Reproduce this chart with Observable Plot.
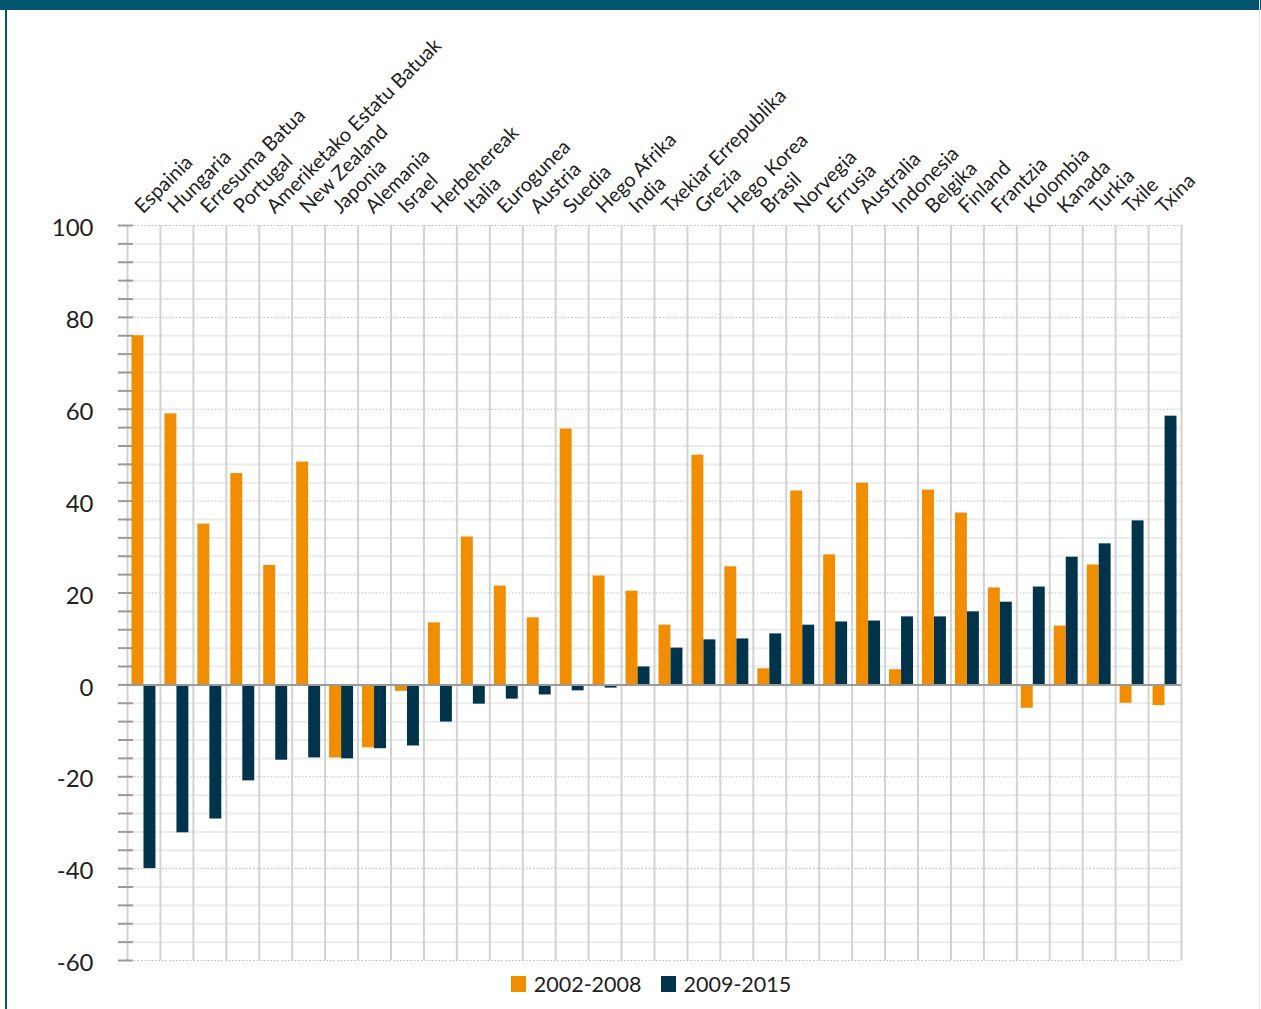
<!DOCTYPE html>
<html>
<head>
<meta charset="utf-8">
<script src="https://cdn.jsdelivr.net/npm/d3@7"></script>
<script src="https://cdn.jsdelivr.net/npm/@observablehq/plot@0.6"></script>
<style>
  html, body { margin: 0; padding: 0; background: #fff; }
  #page { position: relative; width: 1261px; height: 1009px; overflow: hidden; font-family: Lato, "Open Sans", sans-serif; }
  #banner { position: absolute; left: 0; top: 0; width: 1261px; height: 10px; background: #02566f; z-index: 2; }
  #lborder { position: absolute; left: 5px; top: 0; width: 2px; height: 1009px; background: #02566f; z-index: 2; }
  #rborder { position: absolute; left: 1259px; top: 0; width: 1px; height: 1009px; background: #e2e2e2; z-index: 2; }
  #chart svg { display: block; }
  #legend { display: flex; justify-content: center; align-items: center; height: 32px; margin-top: -8px; gap: 19px; font-size: 21.5px; color: #222; padding-left: 41px; }
  .item { display: flex; align-items: center; gap: 8px; }
  .sw { width: 15px; height: 16px; display: inline-block; }
</style>
</head>
<body>
<div id="page">
  <div id="banner"></div>
  <div id="lborder"></div>
  <div id="rborder"></div>
  <div id="chart"></div>
  <div id="legend"></div>
</div>
<script>
const countries = ["Espainia","Hungaria","Erresuma Batua","Portugal","Ameriketako Estatu Batuak","New Zealand","Japonia","Alemania","Israel","Herbehereak","Italia","Eurogunea","Austria","Suedia","Hego Afrika","India","Txekiar Errepublika","Grezia","Hego Korea","Brasil","Norvegia","Errusia","Australia","Indonesia","Belgika","Finland","Frantzia","Kolombia","Kanada","Turkia","Txile","Txina"];
const series = ["2002-2008", "2009-2015"];
const v2002_2008 = [76, 59, 35, 46, 26, 48.5, -15.9, -13.7, -1.4, 13.5, 32.2, 21.5, 14.6, 55.7, 23.7, 20.4, 13.0, 50.0, 25.7, 3.5, 42.2, 28.3, 43.9, 3.3, 42.4, 37.4, 21.1, -5.1, 12.8, 26.1, -4.0, -4.5];
const v2009_2015 = [-40, -32.2, -29.2, -20.9, -16.4, -15.9, -16.1, -13.9, -13.3, -8.1, -4.2, -3.1, -2.2, -1.3, -0.7, 3.9, 8.0, 9.8, 10.0, 11.1, 13.0, 13.7, 13.9, 14.8, 14.8, 15.9, 18.0, 21.3, 27.8, 30.7, 35.7, 58.5];
const colors = ["#f18d00", "#01344a"];
const yTicks = d3.range(-60, 101, 4);
const yMajor = d3.range(-60, 101, 20);
const yMinor = yTicks.filter(d => d % 20 !== 0);

const rowsA = countries.map((c, i) => ({country: c, value: v2002_2008[i]}));
const rowsB = countries.map((c, i) => ({country: c, value: v2009_2015[i]}));

const W = 1261, H = 976;
const mL = 127, mR = 80, mT = 225, mB = 16;
const bw = (W - mL - mR) / countries.length;

const chart = Plot.plot({
  width: W,
  height: H,
  marginLeft: mL,
  marginRight: mR,
  marginTop: mT,
  marginBottom: mB,
  style: {fontFamily: "Lato, 'Open Sans', sans-serif", color: "#222", background: "transparent", overflow: "visible"},
  x: {type: "band", domain: countries, padding: 0, round: false, axis: null},
  y: {domain: [-60, 100], axis: null},
  marks: [
    Plot.ruleY(yMinor, {stroke: "#ececec", strokeWidth: 2}),
    Plot.ruleY(yMajor, {stroke: "#bdbdbd", strokeWidth: 1, strokeDasharray: "1.5,2"}),
    Plot.ruleX(countries, {x: d => d, dx: -bw / 2, stroke: "#d2d2d2", strokeWidth: 2}),
    Plot.ruleX(countries.slice(-1), {x: d => d, dx: bw / 2, stroke: "#d2d2d2", strokeWidth: 2}),
    Plot.axisY({ticks: yTicks, tickSize: 15, dx: 6, stroke: "#9a9a9a", strokeWidth: 2, tickFormat: () => "", label: null}),
    Plot.axisY({ticks: yMajor, tickSize: 0, tickPadding: 34, dy: 3, fontSize: 24, fill: "#222", tickFormat: d => String(d), label: null}),
    Plot.barY(rowsA, {x: "country", y: "value", fill: colors[0], insetLeft: 4.5, insetRight: 16.5}),
    Plot.barY(rowsB, {x: "country", y: "value", fill: colors[1], insetLeft: 16.5, insetRight: 4.5}),
    Plot.ruleY([0], {stroke: "#9a9a9a", strokeWidth: 2}),
    Plot.text(countries, {x: d => d, text: d => d, frameAnchor: "top", rotate: -45, textAnchor: "start", lineAnchor: "bottom", dx: -1, dy: -11, fontSize: 20, fill: "#222"})
  ]
});
document.getElementById("chart").appendChild(chart);

const legend = document.getElementById("legend");
series.forEach((s, i) => {
  const it = document.createElement("div");
  it.className = "item";
  const sw = document.createElement("span");
  sw.className = "sw";
  sw.style.background = colors[i];
  const t = document.createElement("span");
  t.textContent = s;
  it.appendChild(sw);
  it.appendChild(t);
  legend.appendChild(it);
});
</script>
</body>
</html>
